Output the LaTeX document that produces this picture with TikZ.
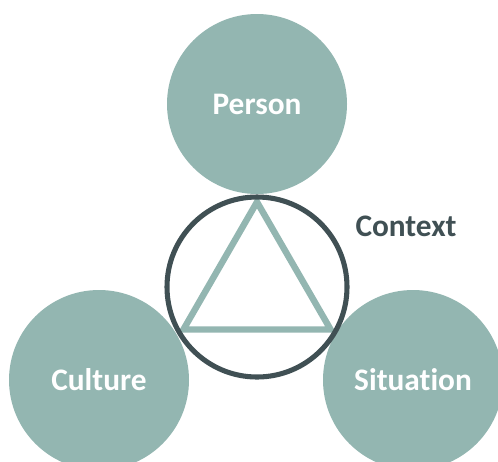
\documentclass[tikz,border=0pt]{standalone}
\usepackage{fontspec}
\setmainfont[Ligatures={NoCommon}]{Carlito}
\definecolor{verdegris}{HTML}{93B6B1}
\definecolor{pizarra}{HTML}{405054}
\tikzset{
  circulo/.style={circle, fill=verdegris, minimum size=135pt, inner sep=0pt,
    text=white, font=\fontsize{23.5}{28}\selectfont\bfseries},
  contexto/.style={circle, draw=pizarra, line width=3.8pt, minimum size=135pt, inner sep=0pt}
}
\begin{document}
\begin{tikzpicture}[x=0.75pt,y=-0.75pt]
        \useasboundingbox (0,0) rectangle (498,461);
        % Circulos exteriores
        \node[circulo] (persona) at (257,104) {Person};
        \node[circulo] (cultura) at (99,380) {Culture};
        \node[circulo] (situacion) at (413,380) {Situation};
        % Triangulo inscrito
        \coordinate (arriba) at (257,202);
        \coordinate (izq) at (183.4,329.5);
        \coordinate (der) at (330.6,329.5);
        \draw[verdegris,line width=4.8pt,line join=miter] (arriba) -- (izq) -- (der) -- cycle;
        % Circulo del contexto
        \node[contexto] (centro) at (257,287) {};
        \node[text=pizarra,font=\fontsize{23.5}{28}\selectfont\bfseries] (etiqueta) at (406,226) {Context};
\end{tikzpicture}
\end{document}
